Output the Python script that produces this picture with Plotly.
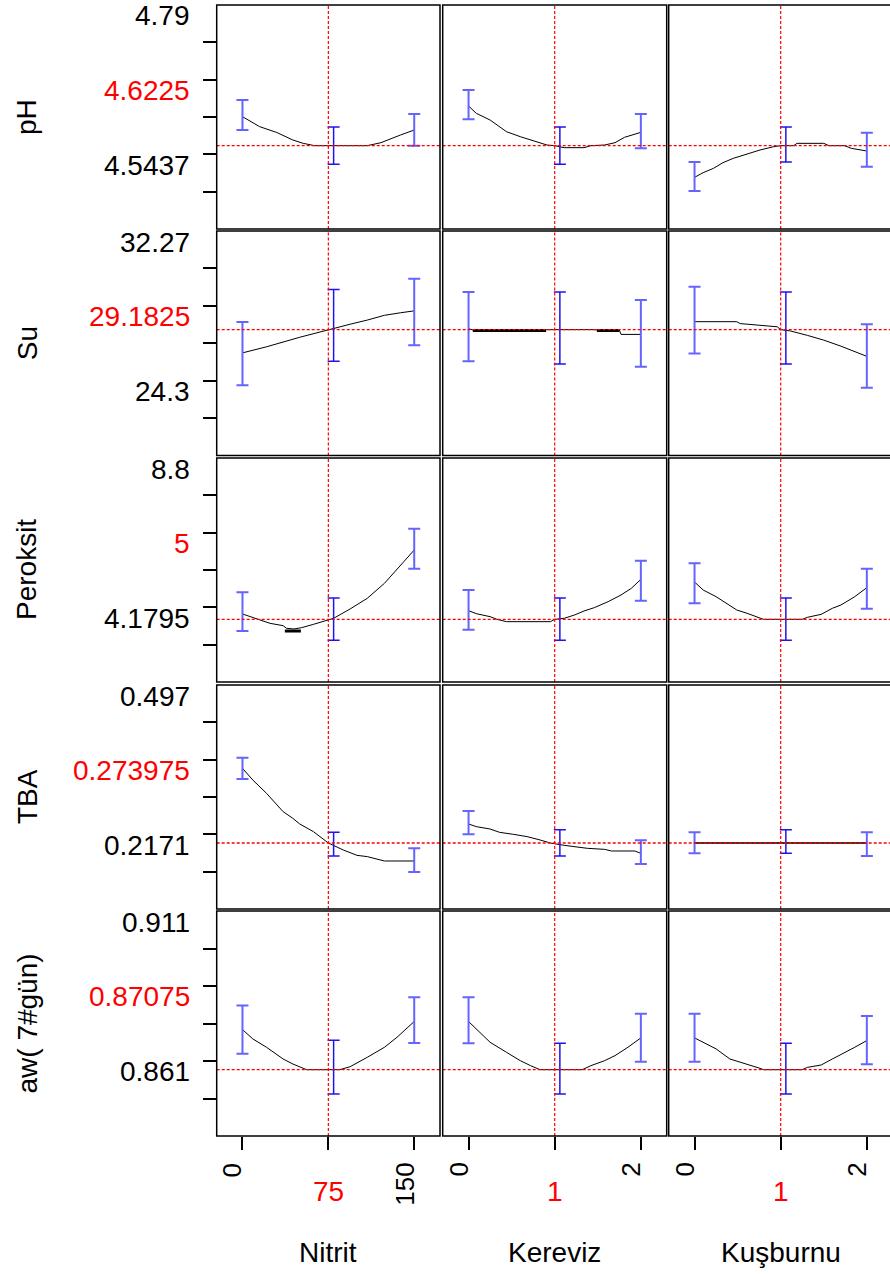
import plotly.graph_objects as go
from plotly.subplots import make_subplots

# ---------------- data ----------------
RESPONSES = ["pH", "Su", "Peroksit", "TBA", "aw( 7#gün)"]
FACTORS = ["Nitrit", "Kereviz", "Kuşburnu"]
FACTOR_TICKS = [[0, 75, 150], [0, 1, 2], [0, 1, 2]]
FACTOR_SETTING = [75, 1, 1]
FACTOR_RANGES = [[-22.5, 172.5], [-0.3, 2.3], [-0.3, 2.269]]
CI_X = [[0, 79.6, 150], [0, 1.06, 2], [0, 1.06, 2]]

Y_RANGES = [[4.5212, 4.79], [25.214, 32.27], [2.3936, 8.8], [0.10052, 0.497], [0.840216, 0.911]]
Y_PREDICTED = [4.6212, 29.17, 4.186, 0.2173, 0.86108]
Y_LABELS = [["4.79", "4.6225", "4.5437"],
            ["32.27", "29.1825", "24.3"],
            ["8.8", "5", "4.1795"],
            ["0.497", "0.273975", "0.2171"],
            ["0.911", "0.87075", "0.861"]]

# pH
PH_X = [[0, 15, 30, 44, 53, 63, 109, 121, 138, 150],
        [0, 0.09, 0.25, 0.44, 0.60, 0.72, 0.83, 0.91, 1.0, 1.11, 1.34, 1.42, 1.58, 1.70, 1.81, 2.0],
        [0, 0.10, 0.22, 0.33, 0.45, 0.61, 0.76, 0.92, 1.0, 1.15, 1.19, 1.50, 1.56, 1.74, 1.82, 2.0]]
PH_Y = [[4.656, 4.644, 4.637, 4.628, 4.624, 4.6212, 4.6212, 4.6248, 4.634, 4.640],
        [4.6688, 4.660, 4.652, 4.638, 4.632, 4.628, 4.624, 4.622, 4.6212, 4.6188, 4.6188, 4.6212, 4.622, 4.6248, 4.6312, 4.6372],
        [4.5832, 4.5888, 4.594, 4.6008, 4.606, 4.6112, 4.616, 4.620, 4.6212, 4.6212, 4.624, 4.624, 4.6212, 4.6212, 4.618, 4.6148]]
PH_LO = [[4.640, 4.5988, 4.6212], [4.6528, 4.5988, 4.618], [4.5668, 4.6016, 4.596]]
PH_HI = [[4.676, 4.6436, 4.6592], [4.688, 4.6436, 4.6592], [4.6016, 4.6436, 4.6368]]
PH_BOLD_X = [[], [], []]
PH_BOLD_Y = [[], [], []]

# Su
SU_X = [[0, 21, 50, 75, 94, 109, 124, 138, 150],
        [0, 0.05, 0.90, 0.91, 1.46, 1.49, 1.75, 1.77, 2.0],
        [0, 0.49, 0.53, 0.76, 0.82, 0.96, 1.0, 1.11, 1.31, 1.50, 1.70, 1.86, 2.0]]
SU_Y = [[28.44, 28.63, 28.93, 29.17, 29.34, 29.47, 29.62, 29.70, 29.76],
        [29.20, 29.16, 29.16, 29.17, 29.17, 29.16, 29.16, 29.02, 29.02],
        [29.42, 29.42, 29.36, 29.31, 29.28, 29.26, 29.17, 29.13, 28.99, 28.84, 28.65, 28.49, 28.33]]
SU_LO = [[27.42, 28.18, 28.68], [28.18, 28.09, 28.00], [28.42, 28.09, 27.34]]
SU_HI = [[29.41, 30.43, 30.77], [30.35, 30.35, 30.10], [30.52, 30.35, 29.34]]
SU_BOLD_X = [[], [0.05, 0.90, None, 1.49, 1.75], []]
SU_BOLD_Y = [[], [29.14, 29.14, None, 29.14, 29.14], []]

# Peroksit
PER_X = [[0, 12, 24, 35.5, 38.5, 45, 51.7, 62, 75, 79.6, 94, 109, 124, 138, 150],
         [0, 0.09, 0.25, 0.33, 0.44, 0.95, 1.0, 1.11, 1.23, 1.34, 1.46, 1.62, 1.77, 1.89, 2.0],
         [0, 0.10, 0.25, 0.37, 0.49, 0.61, 0.72, 0.80, 1.25, 1.31, 1.47, 1.60, 1.70, 1.86, 2.0]]
PER_Y = [[4.339, 4.215, 4.072, 4.005, 3.929, 3.91, 3.948, 4.043, 4.186, 4.215, 4.482, 4.787, 5.216, 5.740, 6.169],
         [4.434, 4.348, 4.262, 4.186, 4.119, 4.119, 4.186, 4.215, 4.310, 4.424, 4.520, 4.691, 4.882, 5.073, 5.330],
         [5.254, 5.025, 4.834, 4.644, 4.453, 4.358, 4.262, 4.186, 4.186, 4.243, 4.329, 4.501, 4.596, 4.834, 5.092]]
PER_LO = [[3.852, 3.585, 5.635], [3.890, 3.585, 4.720], [4.644, 3.585, 4.491]]
PER_HI = [[4.958, 4.796, 6.779], [5.025, 4.796, 5.864], [5.788, 4.796, 5.635]]
PER_BOLD_X = [[37, 51], [], []]
PER_BOLD_Y = [[3.852, 3.852], [], []]

# TBA
TBA_X = [[0, 9, 21, 35.5, 44, 50, 62, 75, 88, 100, 109, 124, 150],
         [0, 0.09, 0.25, 0.36, 0.52, 0.68, 0.83, 0.95, 1.11, 1.38, 1.58, 1.66, 1.93, 2.0],
         [0, 2]]
TBA_Y = [[0.3495, 0.3289, 0.3053, 0.2728, 0.2610, 0.2510, 0.2374, 0.2173, 0.2050, 0.1955, 0.1932, 0.1855, 0.1855],
         [0.2510, 0.2463, 0.2421, 0.2362, 0.2327, 0.2286, 0.2227, 0.2173, 0.2132, 0.2079, 0.2061, 0.2032, 0.2032, 0.1991],
         [0.2173, 0.2173]]
TBA_LO = [[0.3306, 0.1943, 0.1660], [0.2327, 0.1943, 0.1802], [0.1991, 0.1991, 0.1943]]
TBA_HI = [[0.3684, 0.2362, 0.2079], [0.2740, 0.2409, 0.2221], [0.2362, 0.2409, 0.2362]]
TBA_BOLD_X = [[], [], [0, 2]]
TBA_BOLD_Y = [[], [], [0.2173, 0.2173]]

# aw (7. gün)
AW_X = [[0, 9, 21, 35.5, 44, 56, 85, 94, 109, 124, 135, 150],
        [0, 0.13, 0.25, 0.44, 0.60, 0.72, 0.83, 1.32, 1.42, 1.58, 1.70, 1.85, 2.0],
        [0, 0.14, 0.25, 0.41, 0.61, 0.76, 0.80, 1.25, 1.31, 1.47, 1.60, 1.70, 1.86, 2.0]]
AW_Y = [[0.87371, 0.87077, 0.86813, 0.86445, 0.86287, 0.86108, 0.86108, 0.86202, 0.86497, 0.86813, 0.87129, 0.87624],
        [0.87624, 0.87287, 0.86971, 0.86655, 0.86392, 0.86234, 0.86108, 0.86108, 0.86234, 0.86392, 0.86550, 0.86813, 0.87108],
        [0.87108, 0.86919, 0.86761, 0.86445, 0.86287, 0.86150, 0.86108, 0.86108, 0.86181, 0.86255, 0.86445, 0.86582, 0.86813, 0.87024]]
AW_LO = [[0.86613, 0.85339, 0.86950], [0.86940, 0.85339, 0.86360], [0.86360, 0.85339, 0.86276]]
AW_HI = [[0.88130, 0.87034, 0.88383], [0.88383, 0.86940, 0.87866], [0.87866, 0.86940, 0.87793]]
AW_BOLD_X = [[], [], []]
AW_BOLD_Y = [[], [], []]

CURVE_X = [PH_X, SU_X, PER_X, TBA_X, AW_X]
CURVE_Y = [PH_Y, SU_Y, PER_Y, TBA_Y, AW_Y]
CI_LO = [PH_LO, SU_LO, PER_LO, TBA_LO, AW_LO]
CI_HI = [PH_HI, SU_HI, PER_HI, TBA_HI, AW_HI]
BOLD_X = [PH_BOLD_X, SU_BOLD_X, PER_BOLD_X, TBA_BOLD_X, AW_BOLD_X]
BOLD_Y = [PH_BOLD_Y, SU_BOLD_Y, PER_BOLD_Y, TBA_BOLD_Y, AW_BOLD_Y]

# ---------------- layout geometry ----------------
W, H = 890, 1274
COL_PX = [(216.7, 440.0), (442.7, 666.7), (668.7, 890.0)]
ROW_PX = [(5, 229), (231, 455.5), (458, 682), (685, 909), (911, 1136)]
FONT = "Liberation Sans, Arial, sans-serif"
RED = "#ff0000"
END_BAR = "rgba(100,100,255,1)"
MID_BAR = "rgba(30,20,235,1)"

fig = make_subplots(rows=5, cols=3)


def idx(r, c):
    n = r * 3 + c + 1
    return "" if n == 1 else str(n)


for r in range(5):
    for c in range(3):
        ax = idx(r, c)
        xr, yr = f"x{ax}", f"y{ax}"
        # response curve
        fig.add_trace(go.Scatter(x=CURVE_X[r][c], y=CURVE_Y[r][c], mode="lines",
                                 line=dict(color="black", width=1), showlegend=False,
                                 hoverinfo="skip"), row=r + 1, col=c + 1)
        if BOLD_X[r][c]:
            fig.add_trace(go.Scatter(x=BOLD_X[r][c], y=BOLD_Y[r][c], mode="lines",
                                     line=dict(color="black" if r != 3 else "#333333",
                                               width=3 if r != 3 else 2.2),
                                     showlegend=False, hoverinfo="skip"), row=r + 1, col=c + 1)
        # confidence bars
        lo, hi = CI_LO[r][c], CI_HI[r][c]
        mids = [(a + b) / 2 for a, b in zip(lo, hi)]
        half = [(b - a) / 2 for a, b in zip(lo, hi)]
        for sel, col, th in (([0, 2], END_BAR, 2), ([1], MID_BAR, 1.5)):
            fig.add_trace(go.Scatter(
                x=[CI_X[c][i] for i in sel], y=[mids[i] for i in sel], mode="markers",
                marker=dict(size=1, color="rgba(0,0,0,0)"),
                error_y=dict(type="data", array=[half[i] for i in sel], visible=True,
                             color=col, thickness=th, width=6),
                showlegend=False, hoverinfo="skip"), row=r + 1, col=c + 1)

        x0p, x1p = COL_PX[c]
        y0p, y1p = ROW_PX[r]
        lo_y, hi_y = Y_RANGES[r]
        fig.update_xaxes(domain=[x0p / W, x1p / W], range=FACTOR_RANGES[c],
                         showgrid=False, zeroline=False, showline=False,
                         showticklabels=False,
                         ticks="outside" if r == 4 else "",
                         tickvals=FACTOR_TICKS[c] if r == 4 else None,
                         ticklen=13, tickwidth=2, tickcolor="black",
                         row=r + 1, col=c + 1)
        step = (hi_y - lo_y) / 6
        fig.update_yaxes(domain=[1 - y1p / H, 1 - y0p / H], range=[lo_y, hi_y],
                         showgrid=False, zeroline=False, showline=False,
                         showticklabels=False,
                         ticks="outside" if c == 0 else "",
                         tickvals=[lo_y + k * step for k in range(1, 6)] if c == 0 else None,
                         ticklen=13, tickwidth=2, tickcolor="black",
                         row=r + 1, col=c + 1)
        right = 1.012 if c == 2 else 1
        # reference lines
        fig.add_shape(type="line", xref=xr, yref=f"{yr} domain",
                      x0=FACTOR_SETTING[c], x1=FACTOR_SETTING[c], y0=0, y1=1,
                      line=dict(color=RED, width=1.2, dash="3px,2px"))
        fig.add_shape(type="line", xref=f"{xr} domain", yref=yr,
                      x0=0, x1=right, y0=Y_PREDICTED[r], y1=Y_PREDICTED[r],
                      line=dict(color=RED, width=1.3, dash="3px,2px"))
        # frame
        fig.add_shape(type="rect", xref=f"{xr} domain", yref=f"{yr} domain",
                      x0=0, x1=right, y0=0, y1=1,
                      line=dict(color="black", width=1.5), layer="above")

annotations = []
LABEL_OFFS = [11, 85.5, 160.5]
for r in range(5):
    y0p, y1p = ROW_PX[r]
    for k, txt in enumerate(Y_LABELS[r]):
        annotations.append(dict(text=txt, xref="paper", yref="paper",
                                x=192 / W, y=1 - (y0p + LABEL_OFFS[k]) / H,
                                xanchor="right", yanchor="middle", showarrow=False,
                                font=dict(family=FONT, size=28,
                                          color=RED if k == 1 else "black")))
    annotations.append(dict(text=RESPONSES[r], xref="paper", yref="paper",
                            x=27 / W, y=1 - (y0p + y1p) / 2 / H, textangle=-90,
                            xanchor="center", yanchor="middle", showarrow=False,
                            font=dict(family=FONT, size=28, color="black")))

for c in range(3):
    ax = idx(4, c)
    for v in FACTOR_TICKS[c]:
        if v == FACTOR_SETTING[c]:
            annotations.append(dict(text=str(v), xref=f"x{ax}", yref="paper",
                                    x=v, y=1 - 1191 / H, xanchor="center", yanchor="middle",
                                    showarrow=False,
                                    font=dict(family=FONT, size=28, color=RED)))
        else:
            annotations.append(dict(text=str(v), xref=f"x{ax}", yref="paper",
                                    x=v, xshift=-10, y=1 - 1161 / H, textangle=-90,
                                    xanchor="center", yanchor="top", showarrow=False,
                                    font=dict(family=FONT, size=26, color="black")))
    annotations.append(dict(text=FACTORS[c], xref=f"x{ax}", yref="paper",
                            x=FACTOR_TICKS[c][1], y=1 - 1252 / H, xanchor="center",
                            yanchor="middle", showarrow=False,
                            font=dict(family=FONT, size=28, color="black")))

fig.update_layout(width=W, height=H, margin=dict(l=0, r=0, t=0, b=0),
                  paper_bgcolor="white", plot_bgcolor="rgba(0,0,0,0)",
                  annotations=annotations, showlegend=False)

fig.write_html("out.html", config={"displayModeBar": False},
               post_script="document.body.style.margin='0';")
